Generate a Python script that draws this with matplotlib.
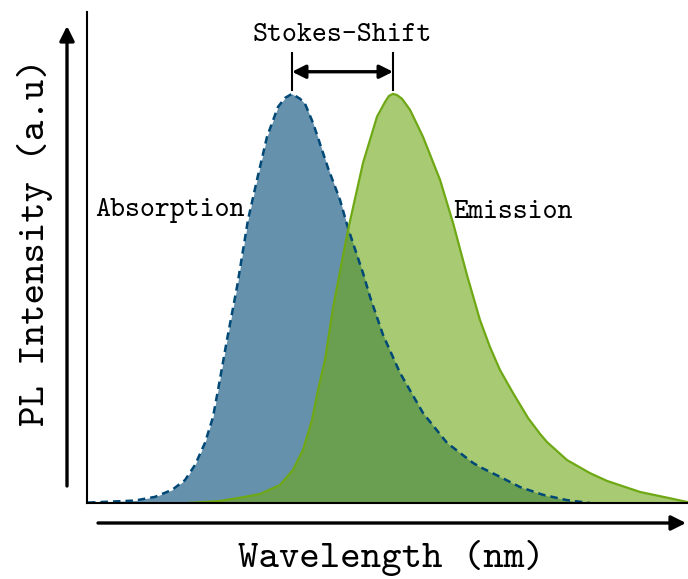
import numpy as np
import matplotlib.pyplot as plt

# curve values (wavelength in arbitrary units, intensity normalised)
abs_x = [1, 48, 68, 85, 98, 108, 118, 126, 131, 140, 150, 161, 170, 180, 191, 198, 205,
         213, 218, 226, 230, 241, 253, 261, 276, 283, 296, 313, 336, 360, 386, 393, 413,
         433, 456, 480, 503]
abs_y = [0.001, 0.006, 0.015, 0.032, 0.056, 0.093, 0.147, 0.210, 0.276, 0.399, 0.528,
         0.692, 0.790, 0.895, 0.968, 0.990, 1.0, 0.988, 0.976, 0.929, 0.900, 0.819, 0.741,
         0.672, 0.562, 0.504, 0.411, 0.318, 0.220, 0.147, 0.098, 0.088, 0.064, 0.039,
         0.020, 0.007, 0.0]

em_x = [100, 133, 158, 173, 193, 206, 216, 225, 231, 238, 246, 261, 276, 290, 298, 302,
        306, 310, 315, 323, 336, 353, 366, 380, 393, 403, 413, 426, 441, 453, 460, 480,
        503, 520, 553, 586, 601]
em_y = [0.0, 0.005, 0.015, 0.022, 0.044, 0.081, 0.130, 0.203, 0.276, 0.350, 0.477, 0.667,
        0.831, 0.944, 0.980, 0.995, 1.0, 0.997, 0.988, 0.961, 0.895, 0.790, 0.685, 0.557,
        0.447, 0.381, 0.325, 0.269, 0.208, 0.169, 0.149, 0.105, 0.073, 0.054, 0.027,
        0.010, 0.002]

abs_peak = 205
em_peak = 306

font = "cmtt10"
blue = "#004876"
green = "#6ea814"

fig = plt.figure(figsize=(6.88, 5.79), dpi=100)
ax = fig.add_axes([87 / 688, 76 / 579, 601 / 688, 491 / 579])

# absorption (under), emission on top
ax.fill_between(abs_x, abs_y, color=blue, alpha=0.6, lw=0)
ax.plot(abs_x, abs_y, color=blue, lw=1.8, ls=(0, (3, 2)))
ax.fill_between(em_x, em_y, color=green, alpha=0.6, lw=0)
ax.plot(em_x, em_y, color=green, lw=1.6)

ax.set_xlim(0, 601)
ax.set_ylim(0, 1.2)
ax.set_xticks([])
ax.set_yticks([])
ax.spines["top"].set_visible(False)
ax.spines["right"].set_visible(False)
ax.spines["left"].set_linewidth(1.5)
ax.spines["bottom"].set_linewidth(1.5)

# Stokes shift marker
ax.plot([abs_peak, abs_peak], [1.01, 1.10], color="black", lw=1.5, clip_on=False)
ax.plot([em_peak, em_peak], [1.01, 1.10], color="black", lw=1.5, clip_on=False)
ax.annotate("", xy=(abs_peak, 1.054), xytext=(em_peak, 1.054),
            arrowprops=dict(arrowstyle="<|-|>", color="black", lw=2.4,
                            mutation_scale=20, shrinkA=0, shrinkB=0))
ax.text((abs_peak + em_peak) / 2, 1.142, "Stokes-Shift", ha="center", va="center",
        fontsize=20.5, family=font)

ax.text(8, 0.715, "Absorption", ha="left", va="center", fontsize=20.5, family=font)
ax.text(366, 0.71, "Emission", ha="left", va="center", fontsize=20.5, family=font)

# axis arrows outside the axes
ax.annotate("", xy=(67 / 688, 1 - 26 / 579), xytext=(67 / 688, 1 - 486 / 579),
            xycoords="figure fraction", textcoords="figure fraction",
            arrowprops=dict(arrowstyle="-|>", color="black", lw=2.4,
                            mutation_scale=22, shrinkA=0, shrinkB=0))
ax.annotate("", xy=(686 / 688, 1 - 523 / 579), xytext=(98 / 688, 1 - 523 / 579),
            xycoords="figure fraction", textcoords="figure fraction",
            arrowprops=dict(arrowstyle="-|>", color="black", lw=2.4,
                            mutation_scale=22, shrinkA=0, shrinkB=0))

fig.text(391 / 688, 1 - 558 / 579, "Wavelength (nm)", ha="center", va="center",
         fontsize=28, family=font)
fig.text(35 / 688, 1 - 242 / 579, "PL Intensity (a.u)", ha="center", va="center",
         rotation=90, fontsize=28, family=font)

fig.savefig("out.png", dpi=100)
